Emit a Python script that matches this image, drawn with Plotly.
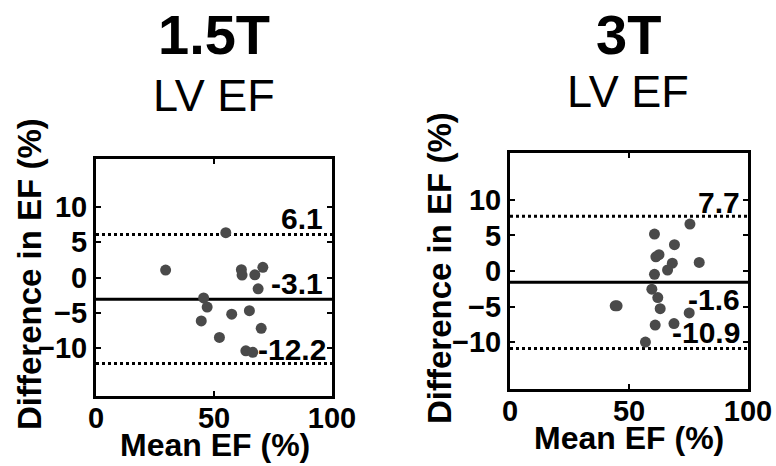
import plotly.graph_objects as go

# ---- data ----
x_15 = [55.0, 29.5, 61.6, 61.9, 67.3, 70.7, 68.7, 45.6, 47.1, 44.6, 57.5, 65.0, 70.0, 52.3, 63.5, 66.4]
y_15 = [6.35, 1.06, 1.1, 0.34, 0.38, 1.44, -1.6, -2.9, -4.2, -6.15, -5.2, -4.7, -7.2, -8.5, -10.4, -10.6]
lines_15 = [6.1, -3.1, -12.2]           # upper LOA, mean, lower LOA

x_3 = [75.6, 60.7, 69.1, 61.3, 62.6, 68.2, 79.5, 66.2, 60.7, 59.6, 62.1, 44.2, 45.0, 63.1, 75.3, 61.0, 68.9, 56.9]
y_3 = [6.6, 5.2, 3.7, 2.0, 2.3, 1.1, 1.2, 0.14, -0.47, -2.56, -3.74, -4.9, -4.9, -5.3, -5.9, -7.6, -7.4, -10.0]
lines_3 = [7.7, -1.6, -10.9]

x_ticks = [0, 50, 100]
y_ticks = [-10, -5, 0, 5, 10]
titles = ["1.5T", "3T"]
subtitle = "LV EF"
xlabel = "Mean EF (%)"
ylabel = "Difference in EF (%)"

FONT = "Liberation Sans, Arial, sans-serif"
W, H = 776, 466

fig = go.Figure()

panels = [
    dict(x=x_15, y=y_15, lines=lines_15, xa="x", ya="y",
         label_y=[8.4, -0.85, -10.2], label_x=[97.2, 97.2, 98.3]),
    dict(x=x_3, y=y_3, lines=lines_3, xa="x2", ya="y2",
         label_y=[9.6, -4.0, -8.7], label_x=[97.5, 97.5, 97.5]),
]

for p in panels:
    for i, v in enumerate(p["lines"]):
        fig.add_trace(go.Scatter(
            x=[0, 100], y=[v, v], mode="lines", xaxis=p["xa"], yaxis=p["ya"],
            line=dict(color="black", width=3, dash="solid" if i == 1 else "dot"),
            hoverinfo="skip", showlegend=False))
    fig.add_trace(go.Scatter(
        x=p["x"], y=p["y"], mode="markers", xaxis=p["xa"], yaxis=p["ya"],
        marker=dict(size=11, color="#4a4a4a"), showlegend=False))
    for v, lx, ly in zip(p["lines"], p["label_x"], p["label_y"]):
        fig.add_annotation(x=lx, y=ly, xref=p["xa"], yref=p["ya"], text=f"{v:.1f}",
                           showarrow=False, xanchor="right", yanchor="middle",
                           font=dict(family=FONT, size=30, color="black", weight="bold"))

axis_common = dict(showgrid=False, zeroline=False, showline=True, linecolor="black",
                   linewidth=3, mirror="ticks", ticks="inside", ticklen=5, tickwidth=2,
                   tickcolor="black", automargin=False,
                   tickfont=dict(family=FONT, size=29, color="black", weight="bold"))
x_extra = dict(ticklabelstandoff=-6)

fig.update_layout(
    template="none",
    width=W, height=H, margin=dict(l=0, r=0, t=0, b=0, pad=0),
    paper_bgcolor="white", plot_bgcolor="white",
    xaxis=dict(domain=[96 / W, 332 / W], range=[0, 100], tickvals=x_ticks, anchor="y", **axis_common, **x_extra),
    yaxis=dict(domain=[1 - 396 / H, 1 - 159 / H], range=[-16.8, 16.8], tickvals=y_ticks, anchor="x", **axis_common),
    xaxis2=dict(domain=[510 / W, 748 / W], range=[0, 100], tickvals=x_ticks, anchor="y2", **axis_common, **x_extra),
    yaxis2=dict(domain=[1 - 389 / H, 1 - 153 / H], range=[-16.6, 16.6], tickvals=y_ticks, anchor="x2", **axis_common),
)

# titles and axis labels
centers = [(214, 34, 95, 29, 274, 215, 445), (628, 34, 91, 439, 268, 629, 438)]
for t, (cx, ty, sy, ylx, yly, xlx, xly) in zip(titles, centers):
    fig.add_annotation(x=cx / W, y=1 - ty / H, xref="paper", yref="paper", text=t, showarrow=False,
                       xanchor="center", yanchor="middle",
                       font=dict(family=FONT, size=56, color="black", weight="bold"))
    fig.add_annotation(x=cx / W, y=1 - sy / H, xref="paper", yref="paper", text=subtitle, showarrow=False,
                       xanchor="center", yanchor="middle",
                       font=dict(family=FONT, size=45, color="black"))
    fig.add_annotation(x=ylx / W, y=1 - yly / H, xref="paper", yref="paper", text=ylabel, showarrow=False,
                       textangle=-90, xanchor="center", yanchor="middle",
                       font=dict(family=FONT, size=33, color="black", weight="bold"))
    fig.add_annotation(x=xlx / W, y=1 - xly / H, xref="paper", yref="paper", text=xlabel, showarrow=False,
                       xanchor="center", yanchor="middle",
                       font=dict(family=FONT, size=32, color="black", weight="bold"))

fig.write_html("out.html",
               config={"displayModeBar": False},
               post_script="document.body.style.margin='0';document.body.style.padding='0';"
                           "document.body.style.overflow='hidden';")
